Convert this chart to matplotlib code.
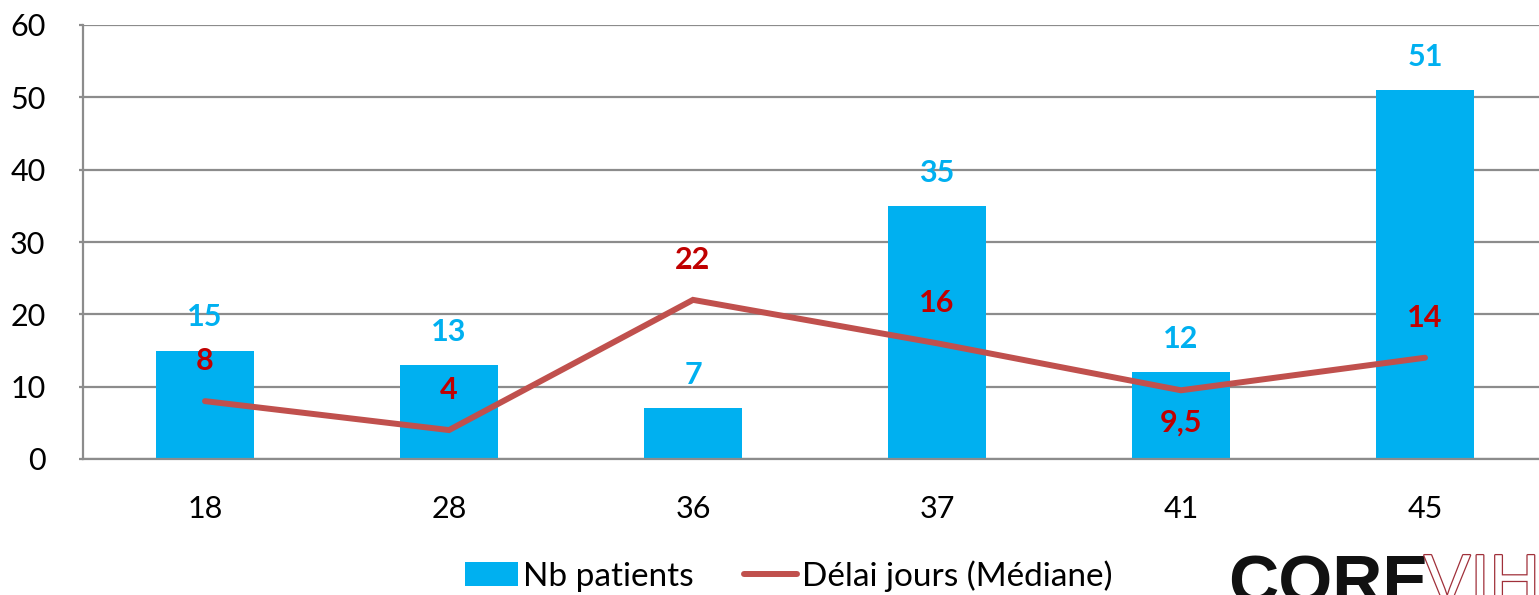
import matplotlib
matplotlib.use("Agg")
import matplotlib.pyplot as plt
import matplotlib.patheffects as pe
from matplotlib.lines import Line2D
from matplotlib.patches import Patch

# data
categories = ["18", "28", "36", "37", "41", "45"]
nb_patients = [15, 13, 7, 35, 12, 51]
delai_median = [8, 4, 22, 16, 9.5, 14]
delai_labels = ["8", "4", "22", "16", "9,5", "14"]
yticks = [0, 10, 20, 30, 40, 50, 60]

bar_color = "#00B0F0"
line_color = "#C0504D"
label_red = "#C00000"
grid_color = "#8C8C8C"

plt.rcParams["font.family"] = ["Lato", "DejaVu Sans"]

W, H = 1539, 595
fig = plt.figure(figsize=(W / 100, H / 100), dpi=100)
ax = fig.add_axes([83 / W, 1 - 459 / H, 6 * 244 / W, (459 - 25) / H])

x = list(range(len(categories)))
ax.bar(x, nb_patients, width=0.4, color=bar_color, zorder=2)
ax.plot(x, delai_median, color=line_color, linewidth=4.3,
        solid_capstyle="round", solid_joinstyle="miter", zorder=3)

# value labels
for xi, v in zip(x, nb_patients):
    ax.annotate(str(v), (xi, v), xytext=(0, 33), textcoords="offset pixels",
                ha="center", va="center", fontsize=22, fontweight="bold",
                color=bar_color, zorder=4)
for xi, v, lab in zip(x, delai_median, delai_labels):
    dy = -32 if lab == "9,5" else 40
    ax.annotate(lab, (xi, v), xytext=(0, dy), textcoords="offset pixels",
                ha="center", va="center", fontsize=22, fontweight="bold",
                color=label_red, zorder=4)

ax.set_xlim(-0.5, 5.5)
ax.set_ylim(0, 60)
ax.set_yticks(yticks)
ax.set_xticks(x)
ax.set_xticklabels(categories)
ax.yaxis.grid(True, color=grid_color, linewidth=1.6)
ax.set_axisbelow(True)
for s in ["top", "right"]:
    ax.spines[s].set_visible(False)
for s in ["left", "bottom"]:
    ax.spines[s].set_color(grid_color)
    ax.spines[s].set_linewidth(1.6)
ax.tick_params(axis="y", length=3, width=1.6, color=grid_color,
               labelsize=22, pad=24)
ax.tick_params(axis="x", length=0, labelsize=22, pad=26)

handles = [Patch(facecolor=bar_color, edgecolor="none"),
           Line2D([], [], color=line_color, linewidth=4.3,
                  solid_capstyle="round")]
fig.legend(handles, ["Nb patients", "Délai jours (Médiane)"],
           loc="center", bbox_to_anchor=(789 / W, 1 - 576 / H), ncol=2,
           frameon=False, fontsize=24, handlelength=1.6, handleheight=0.7,
           handletextpad=0.15, columnspacing=1.5)

# logo in the corner
fig.text(1228 / W, 1 - 553 / H, "CORE", fontfamily="Liberation Sans",
         fontweight="bold", fontsize=50, color="#111111", va="top", ha="left")
fig.text(1424 / W, 1 - 553 / H, "VIH", fontfamily="Liberation Sans",
         fontsize=50, color="white", va="top", ha="left",
         path_effects=[pe.Stroke(linewidth=1.8, foreground="#A0303A"),
                       pe.Normal()])

fig.savefig("out.png", dpi=100)
